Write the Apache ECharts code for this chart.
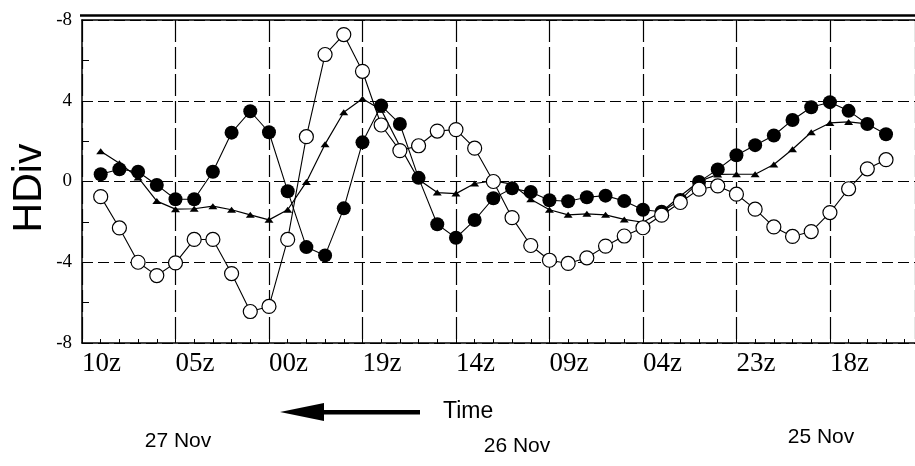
<!DOCTYPE html>
<html>
<head>
<meta charset="utf-8">
<script src="https://cdn.jsdelivr.net/npm/echarts@6/dist/echarts.min.js"></script>
<style>
html, body { margin: 0; padding: 0; background: #fff; }
#chart { width: 915px; height: 466px; }
</style>
</head>
<body>
<div id="chart"></div>
<script>
// tick labels (time runs right to left, one point per hour)
const xTickLabels = ['10z', '05z', '00z', '19z', '14z', '09z', '04z', '23z', '18z'];
const yTickLabels = { '-8': '-8', '-4': '-4', '0': '0', '4': '4', '8': '-8' };
const dateLabels = ['27 Nov', '26 Nov', '25 Nov'];

// HDiv values, hour index 1..43
const filledDots = [0.36, 0.61, 0.48, -0.17, -0.88, -0.88, 0.48, 2.42, 3.48, 2.44,
    -0.48, -3.25, -3.66, -1.33, 1.94, 3.76, 2.85, 0.18, -2.12, -2.79,
    -1.91, -0.83, -0.34, -0.52, -0.93, -0.98, -0.78, -0.7, -0.97, -1.4,
    -1.5, -0.92, -0.02, 0.6, 1.3, 1.8, 2.28, 3.05, 3.68, 3.93,
    3.5, 2.85, 2.34];
const openDots = [-0.75, -2.3, -4.0, -4.66, -4.03, -2.87, -2.87, -4.56, -6.44, -6.19,
    -2.87, 2.22, 6.29, 7.28, 5.46, 2.8, 1.53, 1.77, 2.5, 2.57,
    1.65, 0.0, -1.79, -3.17, -3.9, -4.06, -3.78, -3.2, -2.7, -2.29,
    -1.67, -1.04, -0.38, -0.22, -0.63, -1.37, -2.25, -2.72, -2.48, -1.54,
    -0.36, 0.63, 1.08];
// hour index 1..42
const triangles = [1.5, 0.9, 0.2, -0.97, -1.37, -1.35, -1.22, -1.4, -1.65, -1.9,
    -1.4, -0.02, 1.85, 3.43, 4.1, 3.55, 1.75, 0.1, -0.55, -0.6,
    -0.1, 0.03, -0.13, -0.88, -1.4, -1.65, -1.6, -1.65, -1.88, -2.02,
    -1.5, -0.72, 0.0, 0.35, 0.36, 0.36, 0.84, 1.6, 2.44, 2.9,
    2.95, 2.85];

const toPoints = arr => arr.map((v, i) => [i + 1, v]);

const serif = '"Liberation Serif", "Times New Roman", serif';
const sans = '"Liberation Sans", Arial, sans-serif';
const X_MAX = 44.55;

const chart = echarts.init(document.getElementById('chart'), null, { renderer: 'canvas' });
chart.setOption({
    animation: false,
    backgroundColor: '#fff',
    grid: { left: 82, right: 0, top: 20, bottom: 123 },
    xAxis: [{
        type: 'value',
        min: 0,
        max: X_MAX,
        interval: 5,
        axisLine: { show: true, onZero: false, lineStyle: { color: '#000', width: 1.5 } },
        axisTick: { show: true, inside: true, length: 7, lineStyle: { color: '#000' } },
        minorTick: { show: true, splitNumber: 5, length: 4, lineStyle: { color: '#000' } },
        axisLabel: {
            align: 'left',
            margin: 7,
            color: '#000',
            fontFamily: serif,
            fontSize: 27,
            showMaxLabel: false,
            formatter: v => xTickLabels[Math.round(v / 5)] || '',
        },
        splitLine: { show: true, lineStyle: { color: '#000', width: 1.2, type: [22, 5] } },
    }, {
        type: 'value',
        position: 'top',
        min: 0,
        max: X_MAX,
        axisLine: { show: true, onZero: false, lineStyle: { color: '#000', width: 1.5 } },
        axisTick: { show: false },
        axisLabel: { show: false },
        splitLine: { show: false },
    }],
    yAxis: {
        type: 'value',
        min: -8,
        max: 8,
        interval: 4,
        axisLine: { show: true, onZero: false, lineStyle: { color: '#000', width: 1.5 } },
        axisTick: { show: true, inside: true, length: 7, lineStyle: { color: '#000' } },
        minorTick: { show: true, splitNumber: 2, length: 7, lineStyle: { color: '#000' } },
        axisLabel: {
            margin: 10,
            color: '#000',
            fontFamily: serif,
            fontSize: 19,
            formatter: v => yTickLabels[String(v)],
        },
        splitLine: { show: true, lineStyle: { color: '#000', width: 1.2, type: [11, 5] } },
    },
    series: [{
        name: 'triangles',
        type: 'line',
        data: toPoints(triangles),
        symbol: 'triangle',
        symbolSize: [9, 6],
        showAllSymbol: true,
        lineStyle: { color: '#000', width: 1.2 },
        itemStyle: { color: '#000' },
        z: 3,
    }, {
        name: 'filled',
        type: 'line',
        data: toPoints(filledDots),
        symbol: 'circle',
        symbolSize: 14,
        showAllSymbol: true,
        lineStyle: { color: '#000', width: 1.1 },
        itemStyle: { color: '#000' },
        z: 4,
    }, {
        name: 'open',
        type: 'line',
        data: toPoints(openDots),
        symbol: 'circle',
        symbolSize: 14,
        showAllSymbol: true,
        lineStyle: { color: '#000', width: 1.1 },
        itemStyle: { color: '#fff', borderColor: '#000', borderWidth: 1.2 },
        z: 5,
    }],
    graphic: [
        // outer top rule of the frame
        { type: 'line', shape: { x1: 80, y1: 15.5, x2: 915, y2: 15.5 }, style: { stroke: '#000', lineWidth: 2.5 } },
        {
            type: 'text', x: 30, y: 188, rotation: Math.PI / 2,
            style: { text: 'HDiv', fill: '#000', font: '41px ' + sans, align: 'center', verticalAlign: 'middle' },
        },
        // time arrow
        { type: 'polygon', shape: { points: [[280, 412], [324, 403], [324, 421]] }, style: { fill: '#000' } },
        { type: 'rect', shape: { x: 320, y: 410, width: 100, height: 4.5 }, style: { fill: '#000' } },
        {
            type: 'text', x: 443, y: 412,
            style: { text: 'Time', fill: '#000', font: '23px ' + sans, align: 'left', verticalAlign: 'middle' },
        },
        {
            type: 'text', x: 178, y: 441,
            style: { text: dateLabels[0], fill: '#000', font: '21px ' + sans, align: 'center', verticalAlign: 'middle' },
        },
        {
            type: 'text', x: 517, y: 446,
            style: { text: dateLabels[1], fill: '#000', font: '21px ' + sans, align: 'center', verticalAlign: 'middle' },
        },
        {
            type: 'text', x: 821, y: 437,
            style: { text: dateLabels[2], fill: '#000', font: '21px ' + sans, align: 'center', verticalAlign: 'middle' },
        },
    ],
});
</script>
</body>
</html>
